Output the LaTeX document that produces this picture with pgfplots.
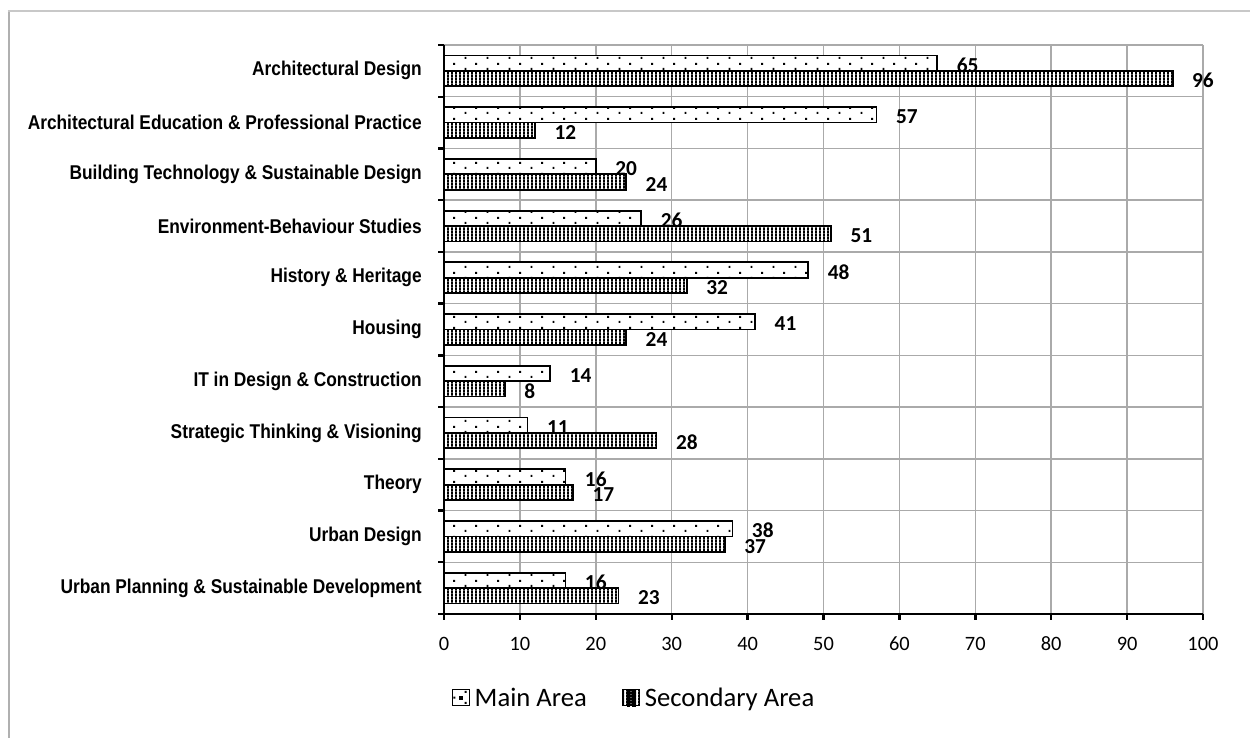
\documentclass[border=0pt]{standalone}
\usepackage{fontspec}
\setmainfont{Carlito}
\newfontfamily\catfont{Liberation Sans}
\usepackage{pgfplots}
\pgfplotsset{compat=1.18}
\usetikzlibrary{patterns.meta}
\definecolor{frameL}{RGB}{176,176,176}
\definecolor{frameT}{RGB}{200,200,200}
\definecolor{gridc}{RGB}{170,170,170}

\pgfdeclarepattern{
  name=mydots,
  type=uncolored,
  bottom left={\pgfpoint{0pt}{0pt}},
  top right={\pgfpoint{16.5pt}{8pt}},
  tile size={\pgfpoint{16.5pt}{8pt}},
  code={
    \pgfpathrectangle{\pgfpoint{2pt}{1.6pt}}{\pgfpoint{1.5pt}{1.5pt}}
    \pgfpathrectangle{\pgfpoint{10.25pt}{5.6pt}}{\pgfpoint{1.5pt}{1.5pt}}
    \pgfusepath{fill}
  }
}
\pgfdeclarepattern{
  name=vstripes,
  type=uncolored,
  bottom left={\pgfpoint{0pt}{0pt}},
  top right={\pgfpoint{3.2pt}{2pt}},
  tile size={\pgfpoint{3.2pt}{2pt}},
  code={
    \pgfpathrectangle{\pgfpoint{0pt}{-0.2pt}}{\pgfpoint{1.75pt}{2.4pt}}
    \pgfusepath{fill}
  }
}

\begin{document}
\begin{tikzpicture}
\useasboundingbox (0,0) rectangle (937.5pt,553.5pt);
\draw[frameL, line width=1.5pt] (6.4pt,0pt) -- (6.4pt,545.25pt);
\draw[frameT, line width=0.9pt] (5.65pt,545.25pt) -- (937.5pt,545.25pt);
\begin{axis}[
  at={(333pt,93pt)}, anchor=south west,
  scale only axis,
  width=569.25pt, height=426.75pt,
  xbar,
  clip=false,
  xmin=0, xmax=100,
  ymin=0.5, ymax=11.5,
  xtick={0,10,...,100},
  ytick={0.5,1.5,...,11.5},
  yticklabels={},
  extra y ticks={1,2,3,4,5,6,7,8,9,10,11},
  extra y tick labels={
    {Urban Planning \& Sustainable Development},
    {Urban Design},
    {Theory},
    {Strategic Thinking \& Visioning},
    {IT in Design \& Construction},
    {Housing},
    {History \& Heritage},
    {Environment-Behaviour Studies},
    {Building Technology \& Sustainable Design},
    {Architectural Education \& Professional Practice},
    {Architectural Design}},
  extra y tick style={grid=none, major tick length=0pt},
  xmajorgrids=true, ymajorgrids=true,
  grid style={gridc, line width=1.1pt},
  axis x line=bottom, axis y line=left,
  axis line style={-, line width=1.8pt, black},
  tick align=outside,
  major tick length=4.5pt,
  tick style={line width=1.8pt, black},
  /pgf/number format/assume math mode=true,
  xticklabel style={font=\fontsize{15.3}{18}\selectfont, anchor=base, yshift=-23pt},
  yticklabel style={font=\catfont\bfseries\fontsize{13}{15}\selectfont, anchor=east, inner sep=0pt, xshift=-16.5pt, yscale=1.15},
  bar width=11.55pt,
  nodes near coords,
  nodes near coords style={font=\bfseries\fontsize{16}{19}\selectfont, anchor=west, inner sep=0pt, xshift=14pt, yshift=-1.5pt, black},
  legend style={draw=none, fill=none, at={(axis description cs:0.2523,-0.1476)}, anchor=center,
    font=\fontsize{20}{24}\selectfont, legend columns=2,
    /tikz/every even column/.append style={column sep=23pt},
    nodes={inner xsep=3.5pt}},
]
\addplot[draw=black, line width=1.3pt, fill=white, postaction={pattern=mydots, pattern color=black}, bar shift=5.775pt,
  legend image code/.code={
    \draw[line width=1pt, fill=white] (0pt,-5.8pt) rectangle (12.5pt,6.2pt);
    \fill[black] (5.5pt,-0.55pt) rectangle (7pt,0.95pt);}]
coordinates {(16,1) (38,2) (16,3) (11,4) (14,5) (41,6) (48,7) (26,8) (20,9) (57,10) (65,11)};
\addlegendentry{Main Area}
\addplot[draw=black, line width=1.3pt, fill=white, postaction={pattern=vstripes, pattern color=black}, bar shift=-5.775pt,
  legend image code/.code={
    \draw[line width=1pt, fill=white] (0pt,-5.8pt) rectangle (12.5pt,6.2pt);
    \fill[black] (3.4pt,-5.8pt) rectangle (5pt,6.2pt);
    \fill[black] (7.5pt,-5.8pt) rectangle (9.1pt,6.2pt);}]
coordinates {(23,1) (37,2) (17,3) (28,4) (8,5) (24,6) (32,7) (51,8) (24,9) (12,10) (96,11)};
\addlegendentry{Secondary Area}
\end{axis}
\end{tikzpicture}
\end{document}
